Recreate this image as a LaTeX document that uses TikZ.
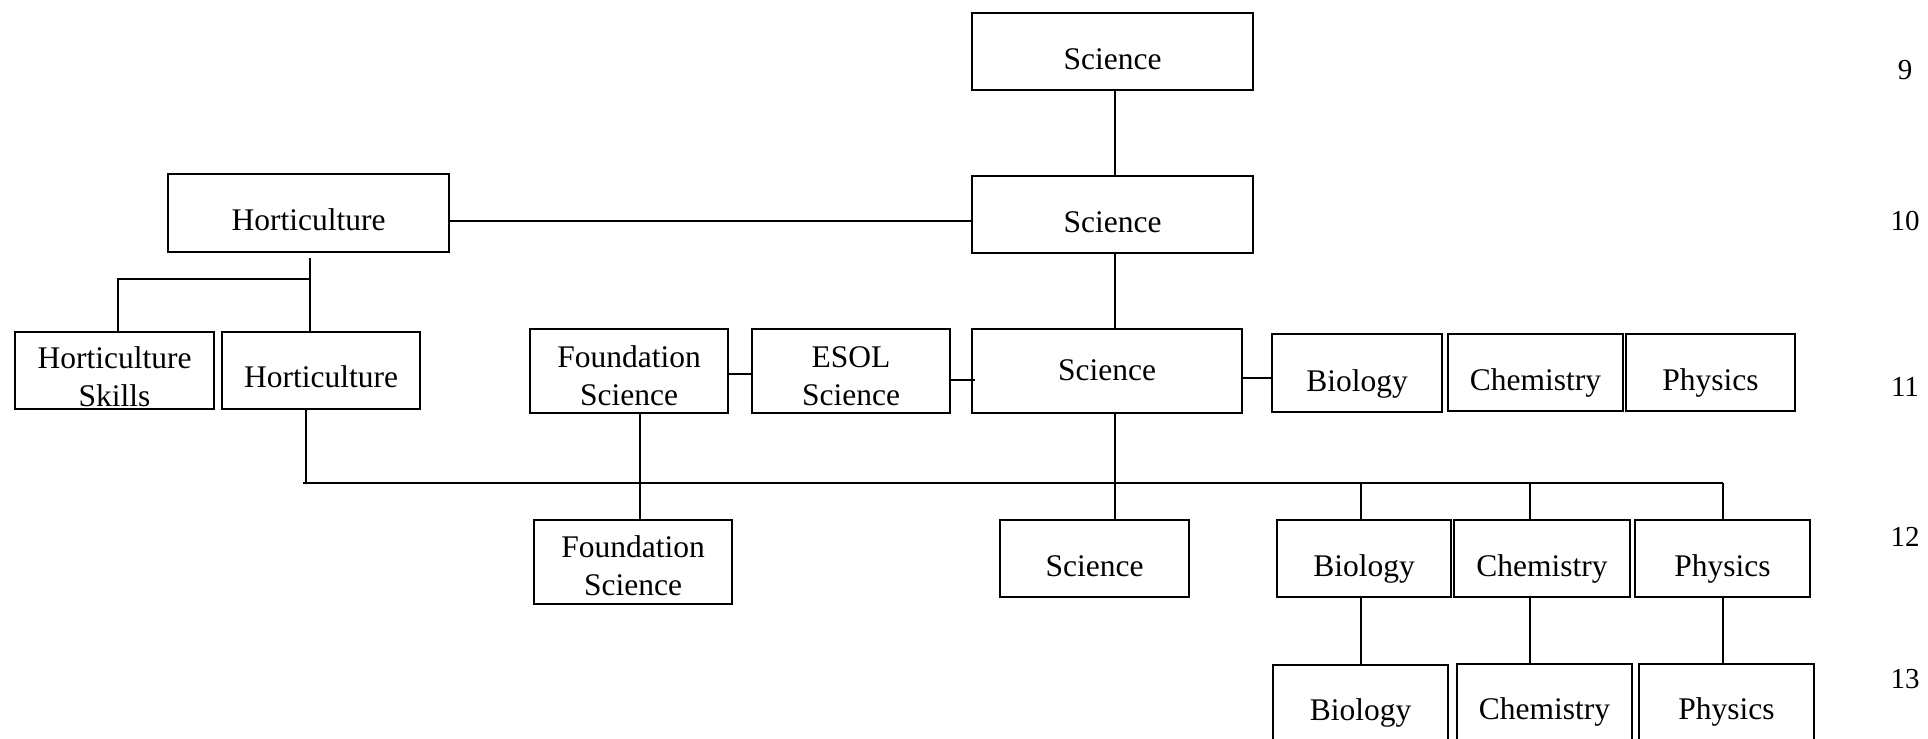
\documentclass[tikz,border=0pt]{standalone}
\usepackage{fontspec}
\setmainfont{Liberation Serif}
\newcommand\twoline[2]{\begin{tabular}[t]{@{}c@{}}#1\\#2\end{tabular}}
\begin{document}
\begin{tikzpicture}[x=1pt,y=-1pt,
  box/.style={draw, line width=1.8pt, rectangle, inner sep=0pt, outer sep=0pt,
    font=\fontsize{31.5}{38}\selectfont, text height=36pt, text depth=0pt},
  two/.style={text height=0pt, text depth=8pt},
  conn/.style={line width=1.8pt},
  yr/.style={font=\fontsize{29}{34}\selectfont, inner sep=0pt}]
\useasboundingbox (0,0) rectangle (1928,739);

% year 9 / 10
\node[box, minimum width=281pt, minimum height=77pt] (sci9) at (1112.5,51.5) {Science};
\node[box, minimum width=281pt, minimum height=77pt] (sci10) at (1112.5,214.5) {Science};
\node[box, minimum width=281pt, minimum height=78pt, text height=34pt] (hort10) at (308.5,213) {Horticulture};

% year 11
\node[box, two, minimum width=199pt, minimum height=77pt, text depth=5pt] (hs11) at (114.5,370.5) {\twoline{Horticulture}{Skills}};
\node[box, minimum width=198pt, minimum height=77pt, text height=33pt] (hort11) at (321,370.5) {Horticulture};
\node[box, two, minimum width=198pt, minimum height=84pt] (fs11) at (629,371) {\twoline{Foundation}{Science}};
\node[box, two, minimum width=198pt, minimum height=84pt] (esol) at (851,371) {\twoline{ESOL}{Science}};
\node[box, minimum width=270pt, minimum height=84pt, text height=18pt] (sci11) at (1107,371) {Science};
\node[box, minimum width=170pt, minimum height=78pt] (bio11) at (1357,373) {Biology};
\node[box, minimum width=175pt, minimum height=77pt] (chem11) at (1535.5,372.5) {Chemistry};
\node[box, minimum width=169pt, minimum height=77pt] (phys11) at (1710.5,372.5) {Physics};

% year 12
\node[box, two, minimum width=198pt, minimum height=84pt, text depth=10pt] (fs12) at (633,562) {\twoline{Foundation}{Science}};
\node[box, minimum width=189pt, minimum height=77pt] (sci12) at (1094.5,558.5) {Science};
\node[box, minimum width=174pt, minimum height=77pt] (bio12) at (1364,558.5) {Biology};
\node[box, minimum width=176pt, minimum height=77pt] (chem12) at (1542,558.5) {Chemistry};
\node[box, minimum width=175pt, minimum height=77pt] (phys12) at (1722.5,558.5) {Physics};

% year 13
\node[box, minimum width=175pt, minimum height=78pt, text height=32pt] (bio13) at (1360.5,704) {Biology};
\node[box, minimum width=175pt, minimum height=78pt, text height=32pt] (chem13) at (1544.5,703) {Chemistry};
\node[box, minimum width=175pt, minimum height=78pt, text height=32pt] (phys13) at (1726.5,703) {Physics};

% year labels
\node[yr] (y9) at (1905,70) {9};
\node[yr] (y10) at (1905,221) {10};
\node[yr] (y11) at (1905,387) {11};
\node[yr] (y12) at (1905,537) {12};
\node[yr] (y13) at (1905,679) {13};

% helper coordinates
\coordinate (spine) at (1115,0);
\coordinate (hj) at (310,279);
\coordinate (hsx) at (118,279);
\coordinate (busL) at (303,483);
\coordinate (hb) at (306,483);
\coordinate (fsx) at (640,483);
\coordinate (bx) at (1361,483);
\coordinate (cx) at (1530,483);
\coordinate (px) at (1723,483);

% connectors
\draw[conn] (sci9.south -| spine) -- (sci10.north -| spine);
\draw[conn] ([yshift=-8pt]hort10.east) -- ([yshift=-8pt]hort10.east -| sci10.west);
\draw[conn] (sci10.south -| spine) -- (sci11.north -| spine);
\draw[conn] ([yshift=-6pt]hort10.south -| hj) -- (hort11.north -| hj);
\draw[conn] (hj) -- (hsx) -- (hsx |- hs11.north);
\draw[conn] ([yshift=-3pt]fs11.east) -- ([yshift=-3pt]fs11.east -| esol.west);
\draw[conn] ([yshift=-9pt]esol.east) -- ([yshift=-9pt,xshift=3pt]esol.east -| sci11.west);
\draw[conn] ([yshift=-7pt]sci11.east) -- ([yshift=-7pt]sci11.east -| bio11.west);
\draw[conn] (busL) -- (px);
\draw[conn] (hort11.south -| hb) -- (hb);
\draw[conn] (fs11.south -| fsx) -- (fs12.north -| fsx);
\draw[conn] (sci11.south -| spine) -- (sci12.north -| spine);
\draw[conn] (bx) -- (bio12.north -| bx);
\draw[conn] (cx) -- (chem12.north -| cx);
\draw[conn] (px) -- (phys12.north -| px);
\draw[conn] (bio12.south -| bx) -- (bio13.north -| bx);
\draw[conn] (chem12.south -| cx) -- (chem13.north -| cx);
\draw[conn] (phys12.south -| px) -- (phys13.north -| px);
\end{tikzpicture}
\end{document}
